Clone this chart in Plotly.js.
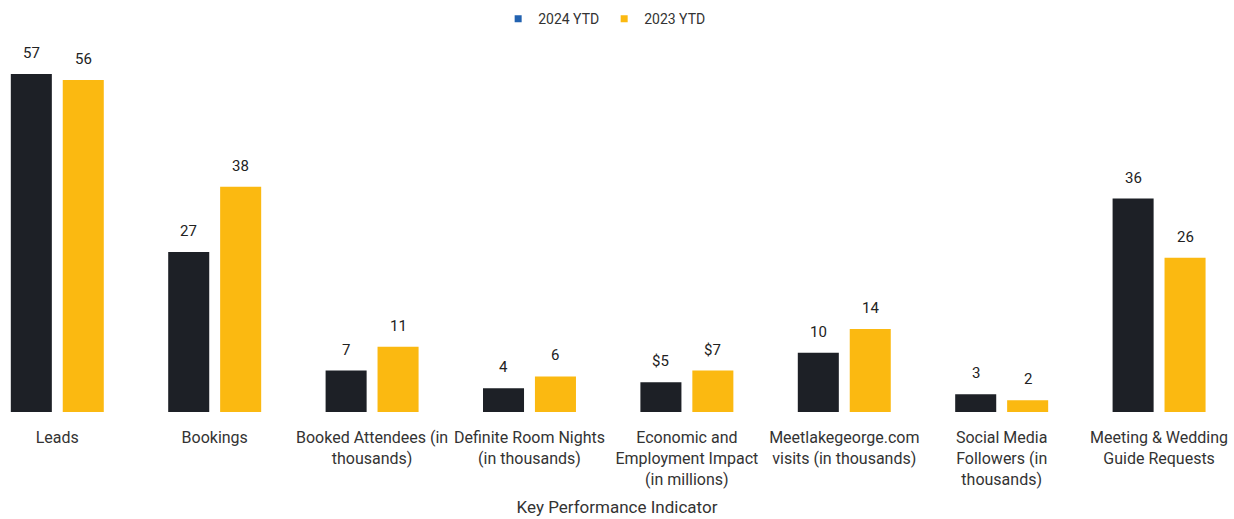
<!DOCTYPE html>
<html>
<head>
<meta charset="utf-8">
<script src="https://cdn.plot.ly/plotly-3.0.1.min.js"></script>
<style>html,body{margin:0;padding:0;background:#fff;}#chart{width:1234px;height:519px;}</style>
</head>
<body>
<div id="chart"></div>
<script>
const categories = [
  "Leads",
  "Bookings",
  "Booked Attendees (in<br>thousands)",
  "Definite Room Nights<br>(in thousands)",
  "Economic and<br>Employment Impact<br>(in millions)",
  "Meetlakegeorge.com<br>visits (in thousands)",
  "Social Media<br>Followers (in<br>thousands)",
  "Meeting & Wedding<br>Guide Requests"
];
const values2024 = [57, 27, 7, 4, 5, 10, 3, 36];
const values2023 = [56, 38, 11, 6, 7, 14, 2, 26];
const labelPrefix = ["", "", "", "", "$", "", "", ""];
const seriesNames = ["2024 YTD", "2023 YTD"];

const barColors = ["#1d2026", "#fbb911"];
const legendColors = ["#2262b0", "#fbb911"];
const font = "Roboto, 'Liberation Sans', sans-serif";
const textColor = "#333333";

const traces = [
  {type: "bar", x: categories, y: values2024, marker: {color: barColors[0]}, showlegend: false, hoverinfo: "skip"},
  {type: "bar", x: categories, y: values2023, marker: {color: barColors[1]}, showlegend: false, hoverinfo: "skip"},
  {type: "scatter", mode: "markers", x: [null], y: [null], name: seriesNames[0], marker: {symbol: "square", size: 7, color: legendColors[0]}},
  {type: "scatter", mode: "markers", x: [null], y: [null], name: seriesNames[1], marker: {symbol: "square", size: 7, color: legendColors[1]}}
];

const annotations = [];
const slotShift = 26;
[values2024, values2023].forEach((vals, s) => {
  vals.forEach((v, i) => {
    annotations.push({
      x: categories[i], y: v, xref: "x", yref: "y",
      text: labelPrefix[i] + v, showarrow: false,
      xanchor: "center", yanchor: "bottom",
      xshift: s === 0 ? -slotShift : slotShift, yshift: 10,
      font: {family: font, size: 15, color: "#222222"}
    });
  });
});

const layout = {
  width: 1234, height: 519,
  margin: {l: 0, r: 0, t: 45, b: 107},
  paper_bgcolor: "#ffffff", plot_bgcolor: "#ffffff",
  barmode: "group", bargap: 0.34, bargroupgap: 0.21,
  font: {family: font, color: textColor},
  showlegend: true,
  legend: {orientation: "h", x: 0.49, xanchor: "center", y: 0.994, yref: "container", yanchor: "top",
           font: {family: font, size: 14, color: textColor}, itemwidth: 30, tracegroupgap: 0},
  xaxis: {
    type: "category", range: [-0.364, 7.476],
    showline: false, showgrid: false, zeroline: false, ticks: "",
    tickfont: {family: font, size: 16, color: textColor},
    ticklabelstandoff: 14,
    title: {text: "Key Performance Indicator", font: {family: font, size: 17, color: textColor}, standoff: 13},
    automargin: false
  },
  yaxis: {range: [0, 61.9], visible: false, showgrid: false, zeroline: false},
  annotations: annotations
};

Plotly.newPlot("chart", traces, layout, {displayModeBar: false, staticPlot: true});
</script>
</body>
</html>
